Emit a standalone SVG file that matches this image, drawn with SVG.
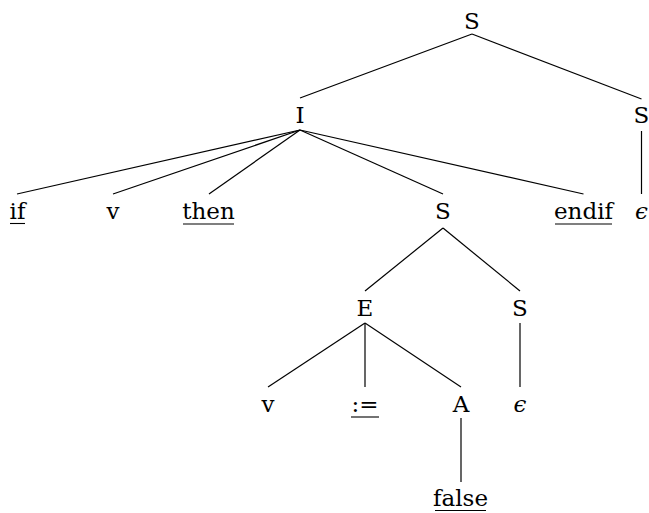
<svg xmlns="http://www.w3.org/2000/svg" width="649" height="513" viewBox="0 0 649 513">
<style>
  text { font-family: "DejaVu Serif", serif; font-size: 23px; fill: #000; text-anchor: middle; }
  text.eps { font-style: italic; }
  .edge { stroke: #000; stroke-width: 1.2; fill: none; }
  .ul { stroke: #000; stroke-width: 1.1; }
</style>
<rect width="649" height="513" fill="#fff"/>
<g id="connectors">
  <line class="edge" x1="472" y1="34" x2="300" y2="98"/>
  <line class="edge" x1="472" y1="34" x2="641.5" y2="99"/>
  <line class="edge" x1="300" y1="130" x2="17" y2="194"/>
  <line class="edge" x1="300" y1="130" x2="113" y2="194"/>
  <line class="edge" x1="300" y1="130" x2="209" y2="194"/>
  <line class="edge" x1="300" y1="130" x2="443" y2="194"/>
  <line class="edge" x1="300" y1="130" x2="583.5" y2="194"/>
  <line class="edge" x1="641.5" y1="131" x2="641.5" y2="194"/>
  <line class="edge" x1="443" y1="228" x2="365" y2="291"/>
  <line class="edge" x1="443" y1="228" x2="520" y2="291"/>
  <line class="edge" x1="365" y1="323" x2="268" y2="387"/>
  <line class="edge" x1="365" y1="323" x2="365" y2="387"/>
  <line class="edge" x1="365" y1="323" x2="461" y2="387"/>
  <line class="edge" x1="520" y1="323" x2="520" y2="387"/>
  <line class="edge" x1="461" y1="418" x2="461" y2="482"/>
</g>
<g id="n-S-root"><text x="472" y="29">S</text></g>
<g id="n-I"><text x="300" y="123">I</text></g>
<g id="n-S-right"><text x="641.5" y="123">S</text></g>
<g id="n-if"><text x="17.5" y="219">if</text><line class="ul" x1="10" y1="223.5" x2="25" y2="223.5"/></g>
<g id="n-v1"><text x="113" y="219">v</text></g>
<g id="n-then"><text x="208.5" y="219">then</text><line class="ul" x1="183" y1="224" x2="234" y2="224"/></g>
<g id="n-S-mid"><text x="443" y="219">S</text></g>
<g id="n-endif"><text x="583.5" y="219">endif</text><line class="ul" x1="555" y1="224" x2="612" y2="224"/></g>
<g id="n-eps1"><text class="eps" x="641.5" y="219">ϵ</text></g>
<g id="n-E"><text x="365" y="316">E</text></g>
<g id="n-S-low"><text x="520" y="316">S</text></g>
<g id="n-v2"><text x="268" y="412">v</text></g>
<g id="n-assign"><text x="365" y="412">:=</text><line class="ul" x1="351" y1="417" x2="379" y2="417"/></g>
<g id="n-A"><text x="461" y="412">A</text></g>
<g id="n-eps2"><text class="eps" x="520" y="412">ϵ</text></g>
<g id="n-false"><text x="460.5" y="506">false</text><line class="ul" x1="435" y1="510.5" x2="486" y2="510.5"/></g>
</svg>
